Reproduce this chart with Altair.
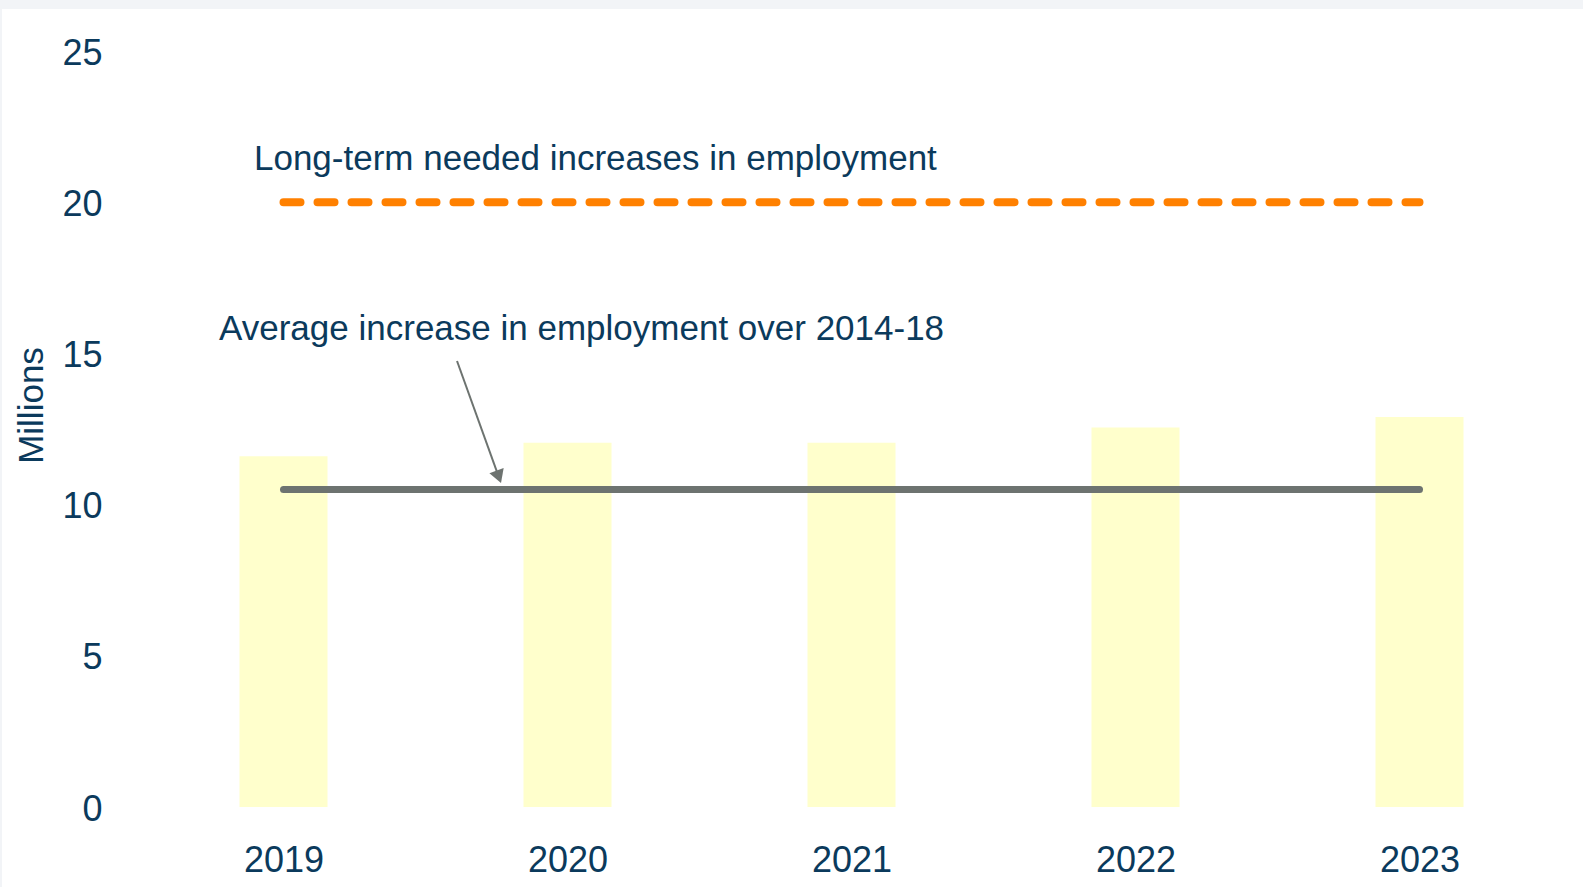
import altair as alt
import pandas as pd

# ---- data ----
years = [2019, 2020, 2021, 2022, 2023]
increase = [11.6, 12.05, 12.05, 12.55, 12.9]      # millions
average_2014_18 = 10.5
long_term_needed = 20.0

label_text = ["Long-term needed increases in employment",
              "Average increase  in employment over 2014-18"]
label_x = [2018.896, 2018.773]
label_y = [21.06, 15.44]

arrow_x = [2019.611, 2019.758]
arrow_y = [14.75, 10.92]

y_ticks = [0, 5, 10, 15, 20, 25]

# ---- tables ----
bars_df = pd.DataFrame({"year": years, "value": increase})
lines_df = pd.DataFrame({
    "x": [years[0], years[0]], "x2": [years[-1], years[-1]],
    "y": [average_2014_18, long_term_needed],
    "kind": ["avg", "need"],
})
labels_df = pd.DataFrame({"text": label_text, "x": label_x, "y": label_y})
arrow_df = pd.DataFrame({"x": [arrow_x[0]], "y": [arrow_y[0]],
                         "x2": [arrow_x[1]], "y2": [arrow_y[1]]})
head_df = pd.DataFrame({"x": [arrow_x[1]], "y": [arrow_y[1]]})

FONT = "Liberation Sans Narrow, Arial Narrow, Liberation Sans, sans-serif"
TXT = "#0B3A5C"

xs = alt.Scale(domain=[2018.0088, 2023.5757], nice=False, zero=False, padding=0)
ys = alt.Scale(domain=[-2.645, 26.39], nice=False, zero=False, padding=0)

x_axis = alt.Axis(values=years, format="d", title=None, orient="bottom",
                  offset=-80, domain=False, ticks=False, grid=False,
                  labelFont=FONT, labelFontSize=36, labelColor=TXT,
                  labelBaseline="alphabetic", labelPadding=64)
y_axis = alt.Axis(values=y_ticks, title="Millions", orient="left",
                  offset=-102, domain=False, ticks=False, grid=False,
                  labelFont=FONT, labelFontSize=36, labelColor=TXT,
                  labelPadding=2, labelOffset=2,
                  titleFont=FONT, titleFontSize=35, titleColor=TXT,
                  titleFontWeight="normal", titleAngle=270,
                  titleX=-73, titleY=396, titleAlign="center",
                  titleBaseline="middle")

bars = alt.Chart(bars_df).mark_bar(width=88, color="#FFFFCC").encode(
    x=alt.X("year:Q", scale=xs, axis=x_axis),
    y=alt.Y("value:Q", scale=ys, axis=y_axis),
    y2=alt.datum(0),
)

avg_line = alt.Chart(lines_df[lines_df.kind == "avg"]).mark_rule(
    color="#6D7370", strokeWidth=7, strokeCap="round"
).encode(
    x=alt.X("x:Q", scale=xs), x2="x2:Q", y=alt.Y("y:Q", scale=ys)
)

need_line = alt.Chart(lines_df[lines_df.kind == "need"]).mark_rule(
    color="#FF8000", strokeWidth=8, strokeCap="round", strokeDash=[17, 17]
).encode(
    x=alt.X("x:Q", scale=xs), x2="x2:Q", y=alt.Y("y:Q", scale=ys)
)

labels = alt.Chart(labels_df).mark_text(
    align="left", baseline="alphabetic", font=FONT, fontSize=35, color=TXT
).encode(
    x=alt.X("x:Q", scale=xs), y=alt.Y("y:Q", scale=ys), text="text:N"
)

arrow = alt.Chart(arrow_df).mark_rule(color="#6D7370", strokeWidth=2).encode(
    x=alt.X("x:Q", scale=xs), y=alt.Y("y:Q", scale=ys), x2="x2:Q", y2="y2:Q"
)

head = alt.Chart(head_df).mark_point(
    shape="triangle-down", filled=True, color="#6D7370", size=230, angle=340,
    opacity=1
).encode(
    x=alt.X("x:Q", scale=xs), y=alt.Y("y:Q", scale=ys)
)

chart = alt.layer(bars, need_line, avg_line, arrow, head, labels).properties(
    width=1581, height=878,
    autosize=alt.AutoSizeParams(type="none"),
    padding={"top": 9, "left": 2, "right": 0, "bottom": 0},
    background="#F2F4F7",
).configure_view(stroke=None, fill="white")

chart.save("out.html", embed_options={"renderer": "svg", "actions": False})
